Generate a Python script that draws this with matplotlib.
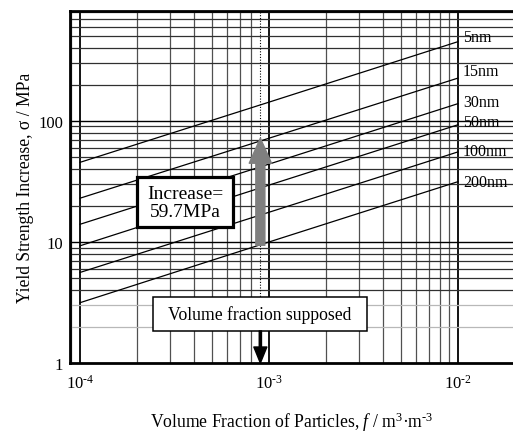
import numpy as np
import matplotlib
matplotlib.use("Agg")
import matplotlib.pyplot as plt
from matplotlib.patches import Rectangle

plt.rcParams['font.family'] = ['Liberation Serif', 'DejaVu Serif']
plt.rcParams['mathtext.fontset'] = 'custom'
plt.rcParams['mathtext.rm'] = 'Liberation Serif'
plt.rcParams['mathtext.it'] = 'Liberation Serif:italic'
plt.rcParams['mathtext.bf'] = 'Liberation Serif:bold'

# ---------------- data ----------------
volume_fraction = [1e-4, 1e-3, 1e-2]
particle_sizes = ["5nm", "15nm", "30nm", "50nm", "100nm", "200nm"]
sigma_5nm = [45.5, 143, 452]
sigma_15nm = [23, 72, 226]
sigma_30nm = [14, 44, 139]
sigma_50nm = [9.3, 29.5, 93]
sigma_100nm = [5.6, 17.6, 55.5]
sigma_200nm = [3.15, 10, 31.5]
series = [sigma_5nm, sigma_15nm, sigma_30nm, sigma_50nm, sigma_100nm, sigma_200nm]
label_sigma = [494, 259, 143.5, 98, 56.5, 31.3]

x_ticks = [1e-4, 1e-3, 1e-2]
x_tick_labels = [r"$10^{\text{-4}}$", r"$10^{\text{-3}}$", r"$10^{\text{-2}}$"]
y_ticks = [1, 10, 100]
y_tick_labels = ["1", "10", "100"]

f_supposed = 9e-4
increase_low = 9.4
increase_high = 72
increase_text = "Increase=\n59.7MPa"
supposed_text = "Volume fraction supposed"
supposed_arrow_from = 1.84
supposed_arrow_to = 1.0

# ---------------- figure ----------------
W, H = 513, 435
fig = plt.figure(figsize=(W / 100, H / 100), dpi=100)
L, R, T, B = 70, 513, 12, 364
ax = fig.add_axes([L / W, (H - B) / H, (R - L) / W, (B - T) / H])
ax.set_xscale('log')
ax.set_yscale('log')
ax.set_xlim(8.85e-5, 1.955e-2)
ax.set_ylim(1, 810)

# grid lines
xmin, xmax = ax.get_xlim()
for d in [-5, -4, -3, -2]:
    for k in range(1, 10):
        v = k * 10.0 ** d
        if v < xmin or v > xmax:
            continue
        if abs(v - f_supposed) < 1e-9:
            continue
        if k == 1:
            ax.axvline(v, color='black', lw=1.3, zorder=1)
        else:
            ax.axvline(v, color='#505050', lw=0.9, zorder=1)
ymin, ymax = ax.get_ylim()
for d in [0, 1, 2]:
    for k in range(1, 10):
        v = k * 10.0 ** d
        if v <= ymin or v > ymax:
            continue
        if k == 1:
            ax.axhline(v, color='black', lw=1.0, zorder=1)
        elif d == 0 and k in (2, 3):
            ax.axhline(v, color='#b8b8b8', lw=0.9, zorder=1)
        else:
            ax.axhline(v, color='#303030', lw=0.9, zorder=1)

ax.axvline(f_supposed, color='black', lw=0.8, ls=(0, (1, 1.5)), zorder=1.5)

for s, name, ly in zip(series, particle_sizes, label_sigma):
    ax.plot(volume_fraction, s, color='black', lw=0.9, zorder=2)
    ax.text(1.062e-2, ly, name, fontsize=11.5, ha='left', va='center', zorder=3)

# thick grey arrow
ax.annotate("", xy=(f_supposed, increase_high), xytext=(f_supposed, increase_low),
            arrowprops=dict(arrowstyle='simple,head_length=1.8,head_width=1.6,tail_width=0.65',
                            color='#7f7f7f', mutation_scale=10, shrinkA=0, shrinkB=0),
            zorder=4)

# Increase box
ax.add_patch(Rectangle((0.1512, 0.386), 0.368 - 0.1512, 0.528 - 0.386, transform=ax.transAxes,
                       facecolor='white', edgecolor='black', lw=2.3, zorder=5))
ax.text(0.2596, 0.455, increase_text, transform=ax.transAxes, fontsize=14, ha='center',
        va='center', linespacing=1.1, zorder=6)

# Volume fraction supposed box
ax.add_patch(Rectangle((0.1874, 0.0909), 0.6704 - 0.1874, 0.1875 - 0.0909, transform=ax.transAxes,
                       facecolor='white', edgecolor='black', lw=1.1, zorder=5))
ax.text(0.4289, 0.139, supposed_text, transform=ax.transAxes, fontsize=12.7, ha='center',
        va='center', zorder=6)

ax.annotate("", xy=(f_supposed, supposed_arrow_to), xytext=(f_supposed, supposed_arrow_from),
            arrowprops=dict(arrowstyle='simple,head_length=1.44,head_width=1.17,tail_width=0.2',
                            color='black', mutation_scale=8, shrinkA=0, shrinkB=0),
            zorder=6)

ax.set_xticks(x_ticks)
ax.set_xticklabels(x_tick_labels)
ax.set_yticks(y_ticks)
ax.set_yticklabels(y_tick_labels)
ax.minorticks_off()
ax.tick_params(axis='both', length=0, labelsize=12)
ax.tick_params(axis='x', pad=8)
ax.tick_params(axis='y', pad=5)

for sp in ['left', 'top', 'bottom']:
    ax.spines[sp].set_linewidth(2.0)
    ax.spines[sp].set_zorder(7)
ax.spines['right'].set_visible(False)

ax.set_ylabel(r"Yield Strength Increase, σ / MPa", fontsize=12.7, labelpad=3)
ax.set_xlabel(r"Volume Fraction of Particles, $f$ / m$^{3}$·m$^{\text{-3}}$", fontsize=12.7, labelpad=12.5)

fig.savefig("out.png", dpi=100)
